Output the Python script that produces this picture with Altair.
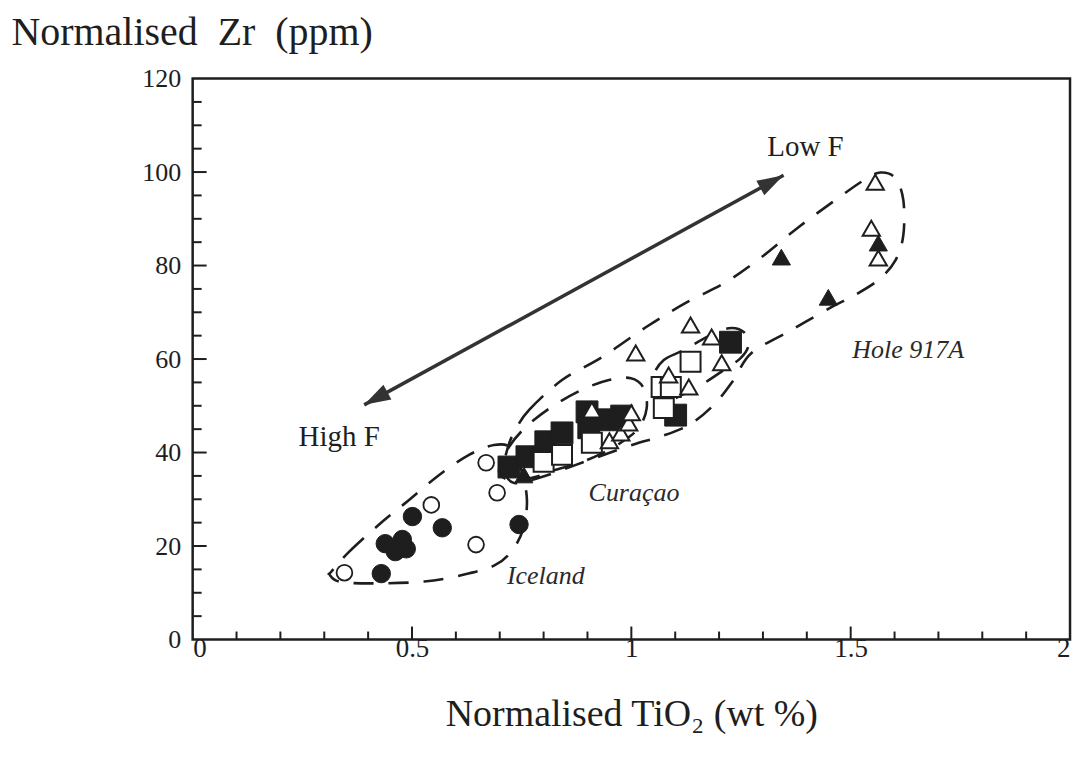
import math
import altair as alt
import pandas as pd

# ---------------- data ----------------
# Iceland: filled / open circles
fc_x = [0.430, 0.439, 0.462, 0.478, 0.487, 0.501, 0.569, 0.744]
fc_y = [14.1, 20.5, 18.8, 21.4, 19.4, 26.3, 23.9, 24.6]
oc_x = [0.346, 0.544, 0.646, 0.694, 0.669]
oc_y = [14.3, 28.8, 20.3, 31.4, 37.8]
# Curacao: filled / open squares
fs_x = [0.721, 0.762, 0.805, 0.842, 0.899, 0.903, 0.949, 0.978, 1.101, 1.226]
fs_y = [36.9, 39.1, 42.3, 44.2, 48.7, 45.3, 47.0, 47.8, 48.0, 63.6]
os_x = [0.800, 0.842, 0.910, 1.069, 1.090, 1.074, 1.135]
os_y = [38.0, 39.5, 42.1, 54.0, 54.0, 49.5, 59.4]
# Hole 917A: filled / open triangles
ft_x = [0.755, 1.342, 1.449, 1.563]
ft_y = [35.2, 81.8, 73.2, 84.8]
ot_x = [0.910, 0.950, 0.976, 0.994, 1.000, 1.010, 1.085, 1.131, 1.135, 1.183, 1.206, 1.547, 1.556, 1.563]
ot_y = [49.1, 42.5, 44.2, 46.3, 48.5, 61.3, 56.6, 54.0, 67.3, 64.7, 59.2, 88.0, 97.8, 81.6]

# dashed field outlines
iceland_x = [0.316, 0.357, 0.425, 0.494, 0.562, 0.630, 0.687, 0.726, 0.749, 0.762, 0.753, 0.726, 0.687, 0.619, 0.528, 0.403, 0.334, 0.312]
iceland_y = [14.5, 18.8, 24.6, 29.9, 35.2, 39.5, 41.6, 41.0, 36.3, 29.9, 23.5, 18.8, 15.8, 13.9, 12.4, 12.0, 12.4, 13.9]
curacao_x = [0.699, 0.721, 0.760, 0.819, 0.887, 0.949, 0.999, 1.028, 1.035, 1.017, 0.976, 0.926, 0.881, 0.828, 0.783, 0.737, 0.705]
curacao_y = [36.7, 41.2, 45.5, 49.8, 53.4, 55.5, 55.9, 53.8, 49.5, 45.3, 42.1, 39.5, 37.8, 36.3, 34.8, 34.0, 34.8]
hole_x = [0.733, 0.767, 0.842, 0.933, 1.033, 1.124, 1.215, 1.297, 1.381, 1.465, 1.529, 1.568, 1.602, 1.620,
          1.620, 1.602, 1.563, 1.506, 1.456, 1.365, 1.274, 1.233, 1.188, 1.131, 1.063, 1.017, 0.949, 0.869,
          0.790, 0.733, 0.710, 0.717]
hole_y = [44.4, 49.1, 55.5, 60.4, 66.8, 72.0, 76.4, 81.8, 88.2, 94.0, 98.2, 99.9, 98.7, 94.0,
          86.5, 81.1, 76.9, 73.5, 71.1, 66.2, 61.3, 55.5, 50.2, 45.9, 43.3, 42.1, 39.9, 37.2,
          34.6, 33.5, 36.3, 40.6]
mid_x = [1.051, 1.074, 1.119, 1.176, 1.222, 1.256, 1.267, 1.249, 1.204, 1.160, 1.119, 1.074, 1.051]
mid_y = [56.6, 59.8, 61.9, 64.9, 66.6, 65.8, 63.0, 60.2, 57.2, 54.5, 52.5, 50.8, 53.0]

# double-headed arrow (High F -> Low F)
arrow_x = [0.391, 1.347]
arrow_y = [50.2, 99.3]

# annotations
plain_text = ["Low F", "High F"]
plain_x = [1.397, 0.334]
plain_y = [105.3, 43.3]
ital_text = ["Hole 917A", "Curaçao", "Iceland"]
ital_x = [1.631, 1.006, 0.805]
ital_y = [61.9, 31.4, 13.5]

# axis ticks / labels
x_labels = [0, 0.5, 1, 1.5, 2]
x_major_ticks = [0.5, 1.0, 1.5]
x_minor_ticks = [0.1, 0.2, 0.3, 0.4, 0.6, 0.7, 0.8, 0.9, 1.1, 1.2, 1.3, 1.4, 1.6, 1.7, 1.8, 1.9]
y_labels = [0, 20, 40, 60, 80, 100, 120]
y_major_ticks = [20, 40, 60, 80, 100]
y_minor_ticks = [5, 10, 15, 25, 30, 35, 45, 50, 55, 65, 70, 75, 85, 90, 95, 105, 110, 115]

# ---------------- chart ----------------
W, H = 879, 562
SERIF = "Liberation Serif"
INK = "#1e1e1e"
NB = "\u00a0"

xs = alt.Scale(domain=[0, 2], nice=False, zero=False)
ys = alt.Scale(domain=[0, 120], nice=False, zero=False)
xaxis = alt.Axis(values=x_labels, labelExpr="'' + datum.value", ticks=False, domain=False, grid=False,
                 labelFont=SERIF, labelFontSize=27, labelColor=INK, labelPadding=-4,
                 title="Normalised TiO₂ (wt %)", titleFont=SERIF, titleFontSize=38, titleFontWeight="normal",
                 titleColor=INK, titleY=86, titleBaseline="alphabetic")
yaxis = alt.Axis(values=y_labels, ticks=False, domain=False, grid=False,
                 labelFont=SERIF, labelFontSize=26, labelColor=INK, labelPadding=12,
                 title="Normalised" + NB + NB + "Zr" + NB + NB + "(ppm)", titleFont=SERIF, titleFontSize=40,
                 titleFontWeight="normal",
                 titleColor=INK, titleAngle=0, titleAlign="left", titleBaseline="alphabetic",
                 titleX=-182, titleY=-34)
X = alt.X("x:Q", scale=xs, axis=xaxis)
Y = alt.Y("y:Q", scale=ys, axis=yaxis)


def df(xv, yv, **extra):
    d = pd.DataFrame({"x": xv, "y": yv})
    for k, v in extra.items():
        d[k] = v
    return d


# outlines
rows = []
for name, xv, yv in [("Iceland", iceland_x, iceland_y), ("Curacao", curacao_x, curacao_y),
                     ("Hole", hole_x, hole_y), ("Mid", mid_x, mid_y)]:
    for i, (a, b) in enumerate(zip(xv, yv)):
        rows.append({"x": a, "y": b, "g": name, "i": i})
outline_df = pd.DataFrame(rows)
outlines = alt.Chart(outline_df).mark_line(
    interpolate="cardinal-closed", strokeDash=[20, 15], strokeWidth=2.6, color=INK
).encode(x=X, y=Y, detail="g:N", order="i:Q")

# arrow
arrow_df = df(arrow_x, arrow_y)
arrow_line = alt.Chart(arrow_df).mark_line(strokeWidth=3.5, color="#333333").encode(x=X, y=Y)
dxp = (arrow_x[1] - arrow_x[0]) * W / 2.0
dyp = (arrow_y[1] - arrow_y[0]) * H / 120.0
ang = 90 - math.degrees(math.atan2(dyp, dxp))
head_df = df(arrow_x, arrow_y, a=[ang + 180, ang])
heads = alt.Chart(head_df).mark_point(
    shape="M0,0 L0.5,1.6 L-0.5,1.6 Z", filled=True, size=1100, opacity=1, color="#333333"
).encode(x=X, y=Y, angle=alt.Angle("a:Q", scale=None))

# points
def pts(xv, yv, shape, filled, size, sw=2.0):
    if filled:
        m = alt.Chart(df(xv, yv)).mark_point(shape=shape, filled=True, size=size, opacity=1,
                                              fill=INK, stroke=INK, strokeWidth=1)
    else:
        m = alt.Chart(df(xv, yv)).mark_point(shape=shape, filled=True, size=size, opacity=1,
                                              fill="white", stroke=INK, strokeWidth=sw)
    return m.encode(x=X, y=Y)

p_fc = pts(fc_x, fc_y, "circle", True, 340)
p_oc = pts(oc_x, oc_y, "circle", False, 250, 1.8)
p_fs = pts(fs_x, fs_y, "square", True, 480)
p_os = pts(os_x, os_y, "square", False, 400, 2.0)
p_ft = pts(ft_x, ft_y, "triangle-up", True, 330)
p_ot = pts(ot_x, ot_y, "triangle-up", False, 300, 2.0)

# annotations
t_plain = alt.Chart(df(plain_x, plain_y, t=plain_text)).mark_text(
    font=SERIF, fontSize=29, color=INK, align="center", baseline="middle"
).encode(x=X, y=Y, text="t:N")
t_ital = alt.Chart(df(ital_x, ital_y, t=ital_text)).mark_text(
    font=SERIF, fontSize=26, fontStyle="italic", color="#2a2a2a", align="center", baseline="middle"
).encode(x=X, y=Y, text="t:N")

# inward ticks
xticks_major = alt.Chart(pd.DataFrame({"x": x_major_ticks})).mark_rule(color=INK, strokeWidth=2).encode(
    x=X, y=alt.value(H), y2=alt.value(H - 13))
xticks_minor = alt.Chart(pd.DataFrame({"x": x_minor_ticks})).mark_rule(color=INK, strokeWidth=2).encode(
    x=X, y=alt.value(H), y2=alt.value(H - 8))
yticks_major = alt.Chart(pd.DataFrame({"y": y_major_ticks})).mark_rule(color=INK, strokeWidth=2).encode(
    y=Y, x=alt.value(0), x2=alt.value(14))
yticks_minor = alt.Chart(pd.DataFrame({"y": y_minor_ticks})).mark_rule(color=INK, strokeWidth=2).encode(
    y=Y, x=alt.value(0), x2=alt.value(9))

chart = alt.layer(
    xticks_major, xticks_minor, yticks_major, yticks_minor,
    outlines, arrow_line, heads,
    p_fc, p_oc, p_fs, p_os, p_ft, p_ot,
    t_plain, t_ital,
).properties(
    width=W, height=H,
    autosize=alt.AutoSizeParams(type="none"),
    padding={"left": 185, "top": 70, "right": 12, "bottom": 110},
    background="white",
).configure_view(
    stroke=INK, strokeWidth=2.5
)

chart.save("out.html", embed_options={"renderer": "svg", "actions": False})
